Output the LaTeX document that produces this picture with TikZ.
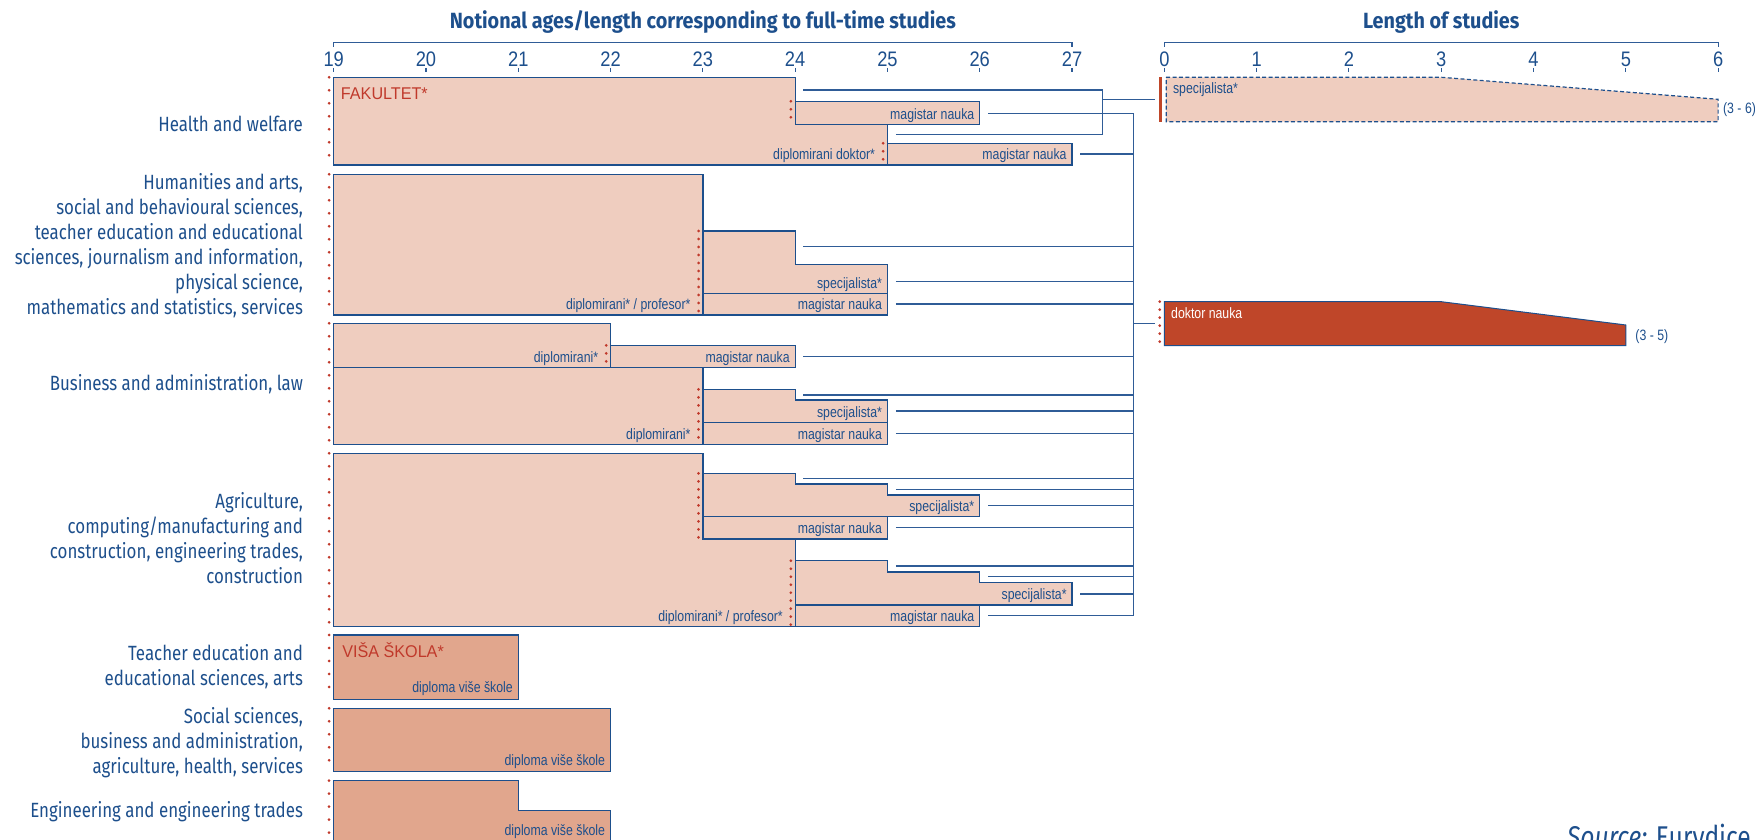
\documentclass[tikz,border=0pt]{standalone}
\usepackage{fontspec}
\newfontfamily\labfont[FakeStretch=0.82]{Fira Sans}
\newfontfamily\headfont[FakeStretch=0.9]{Fira Sans}
\newfontfamily\numfont[FakeStretch=0.87]{Liberation Sans}
\newfontfamily\boxfont[FakeStretch=0.82]{Liberation Sans}
\newfontfamily\redfont[FakeStretch=0.95]{Liberation Sans}
\definecolor{eblue}{HTML}{1D4F8C}
\definecolor{eline}{HTML}{2F5C97}
\definecolor{lightfill}{HTML}{EFCDBF}
\definecolor{darkfill}{HTML}{E1A68D}
\definecolor{edred}{HTML}{BF4629}
\definecolor{dotred}{HTML}{C0392B}
\tikzset{
  cell/.style={draw=eblue,line width=0.65pt,fill=lightfill},
  vcell/.style={draw=eblue,line width=0.65pt,fill=darkfill},
  link/.style={eline,line width=0.55pt},
  innerdots/.style={dotred,line width=1.5pt,line cap=round,dash pattern=on 0pt off 4pt},
  leftdots/.style={dotred,line width=1.5pt,line cap=round,dash pattern=on 0pt off 6.5pt},
  award/.style={font=\boxfont\fontsize{7.5}{8}\selectfont,text=eblue,anchor=base east,inner sep=0pt},
  field/.style={font=\labfont\fontsize{10.3}{12.45}\selectfont,text=eblue,anchor=east,align=right,inner sep=0pt},
  numlab/.style={font=\numfont\fontsize{10.5}{11}\selectfont,text=eblue,inner sep=0pt},
  heading/.style={font=\headfont\bfseries\fontsize{11}{12}\selectfont,text=eblue,inner sep=0pt},
  school/.style={font=\redfont\fontsize{8.5}{9}\selectfont,text=dotred,anchor=west,inner sep=0pt}
}
\begin{document}
\begin{tikzpicture}[line join=miter,x=46.15pt,y=-0.5pt]
\clip (15.385,0) rectangle (34.40,840);

\node[heading] (title1) at (23,21.7) {Notional ages/length corresponding to full-time studies};
\node[heading] (title2) at (31,21.7) {Length of studies};
\draw[link] (19,47)--(19,42.7)--(27,42.7)--(27,47);
\draw[link] (28,47)--(28,42.7)--(34,42.7)--(34,47);
\foreach \a in {19,...,27}{
  \node[numlab] (age\a) at (\a,59) {\a};
  \draw[link] (\a,68)--(\a,72);
}
\foreach \n in {0,...,6}{
  \node[numlab] (len\n) at (28+\n,59) {\n};
  \draw[link] (28+\n,68)--(28+\n,72);
}

\node[field] (fHealth) at (18.671,124) {Health and welfare};
\node[field] (fHum) at (18.671,245.7) {Humanities and arts,\\social and behavioural sciences,\\teacher education and educational\\sciences, journalism and information,\\physical science,\\mathematics and statistics, services};
\node[field] (fBus) at (18.671,384) {Business and administration, law};
\node[field] (fAgr) at (18.671,538.2) {Agriculture,\\computing/manufacturing and\\construction, engineering trades,\\construction};
\node[field] (fTeach) at (18.671,667.1) {Teacher education and\\educational sciences, arts};
\node[field] (fSoc) at (18.671,742.4) {Social sciences,\\business and administration,\\agriculture, health, services};
\node[field] (fEng) at (18.671,811.5) {Engineering and engineering trades};

\draw[cell] (19,77.3)--(24,77.3)--(24,124.3)--(25,124.3)--(25,165)--(19,165)--cycle;
\draw[cell] (24,101.3) rectangle (26,124.3);
\draw[cell] (25,143.3) rectangle (27,165);
\draw[innerdots] (23.953,101.3)--(23.953,124.3);
\draw[innerdots] (24.953,143.3)--(24.953,165);
\draw[leftdots] (18.95,77.3)--(18.95,165);
\node[school] (fak) at (19.075,93.3) {FAKULTET*};
\node[award] (hMag1) at (25.945,119.3) {magistar nauka};
\node[award] (hMag2) at (26.945,160) {magistar nauka};
\node[award] (hDip) at (24.87,160) {diplomirani doktor*};

\draw[cell] (19,174.3) rectangle (23,315);
\draw[cell] (23,231)--(24,231)--(24,264.3)--(25,264.3)--(25,293.3)--(23,293.3)--cycle;
\draw[cell] (23,293.3) rectangle (25,315);
\draw[innerdots] (22.953,231)--(22.953,315);
\draw[leftdots] (18.95,174.3)--(18.95,315);
\node[award] (uSpec) at (24.945,288.3) {specijalista*};
\node[award] (uMag) at (24.945,310) {magistar nauka};
\node[award] (uDip) at (22.87,310) {diplomirani* / profesor*};

\draw[cell] (19,323.3) rectangle (22,367.3);
\draw[cell] (22,345.3) rectangle (24,367.3);
\draw[cell] (19,367.3) rectangle (23,444.3);
\draw[cell] (23,389.3)--(24,389.3)--(24,400)--(25,400)--(25,422.7)--(23,422.7)--cycle;
\draw[cell] (23,422.7) rectangle (25,444.3);
\draw[innerdots] (21.953,345.3)--(21.953,367.3);
\draw[innerdots] (22.953,389.3)--(22.953,444.3);
\draw[leftdots] (18.95,323.3)--(18.95,444.3);
\node[award] (bDip1) at (21.87,362.3) {diplomirani*};
\node[award] (bMag1) at (23.945,362.3) {magistar nauka};
\node[award] (bSpec) at (24.945,417.7) {specijalista*};
\node[award] (bMag2) at (24.945,439.3) {magistar nauka};
\node[award] (bDip2) at (22.87,439.3) {diplomirani*};

\draw[cell] (19,453.3)--(23,453.3)--(23,539)--(24,539)--(24,626.7)--(19,626.7)--cycle;
\draw[cell] (23,473.3)--(24,473.3)--(24,484)--(25,484)--(25,495)--(26,495)--(26,516.7)--(23,516.7)--cycle;
\draw[cell] (23,516.7) rectangle (25,539);
\draw[cell] (24,560.7)--(25,560.7)--(25,572)--(26,572)--(26,582.7)--(27,582.7)--(27,605)--(24,605)--cycle;
\draw[cell] (24,605) rectangle (26,626.7);
\draw[innerdots] (22.953,473.3)--(22.953,539);
\draw[innerdots] (23.953,560.7)--(23.953,626.7);
\draw[leftdots] (18.95,453.3)--(18.95,626.7);
\node[award] (aSpec1) at (25.945,511.7) {specijalista*};
\node[award] (aMag1) at (24.945,534) {magistar nauka};
\node[award] (aSpec2) at (26.945,600) {specijalista*};
\node[award] (aMag2) at (25.945,621.7) {magistar nauka};
\node[award] (aDip) at (23.87,621.7) {diplomirani* / profesor*};

\draw[vcell] (19,635) rectangle (21,699.3);
\draw[vcell] (19,708.3) rectangle (22,771.7);
\draw[vcell] (19,780.7)--(21,780.7)--(21,810.7)--(22,810.7)--(22,860)--(19,860)--cycle;
\draw[leftdots] (18.95,635)--(18.95,699.3);
\draw[leftdots] (18.95,708.3)--(18.95,771.7);
\draw[leftdots] (18.95,780.7)--(18.95,850);
\node[school] (visa) at (19.09,650) {VIŠA ŠKOLA*};
\node[award] (vDip1) at (20.945,692.7) {diploma više škole};
\node[award] (vDip2) at (21.945,765.7) {diploma više škole};
\node[award] (vDip3) at (21.945,836) {diploma više škole};

\draw[dash pattern=on 2pt off 1.2pt,draw=eblue,line width=0.6pt,fill=lightfill]
  (28.02,77.3)--(31,77.3)--(34,99.3)--(34,121.7)--(28.02,121.7)--cycle;
\fill[edred] (27.937,77.3) rectangle (27.97,121.7);
\coordinate (specIn) at (27.90,99.3);
\node[award,anchor=west] (spec) at (28.09,90) {specijalista*};
\node[award,anchor=west] (spec36) at (34.05,110) {(3 - 6)};

\draw[draw=eblue,line width=0.5pt,fill=edred] (28,301.7)--(31,301.7)--(33,325)--(33,345.7)--(28,345.7)--cycle;
\draw[innerdots] (27.95,301.7)--(27.95,345.7);
\coordinate (doktIn) at (27.90,323.3);
\node[award,anchor=west,text=white] (dokt) at (28.07,313.3) {doktor nauka};
\node[award,anchor=west] (dokt35) at (33.1,336.7) {(3 - 5)};

\coordinate (vSmall) at (27.33,0);
\coordinate (vBig) at (27.663,0);
\foreach \x/\y in {24.09/90,25.09/134.3}
  \draw[link] (\x,\y) -- (\x,\y -| vSmall);
\draw[link] (27.33,90) -- (27.33,134.3);
\draw[link] (specIn -| vSmall) -- (specIn);
\foreach \x/\y in {26.09/113.3,27.09/154,24.09/246.7,25.09/281.7,25.09/304,24.09/356.7,24.09/395,25.09/411,25.09/433.3,24.09/478.3,25.09/489.3,26.09/505.7,25.09/527.7,25.09/566,26.09/576.7,27.09/594,26.09/615.7}
  \draw[link] (\x,\y) -- (\x,\y -| vBig);
\draw[link] (27.663,113.3) -- (27.663,615.7);
\draw[link] (doktIn -| vBig) -- (doktIn);

\node[font=\labfont\fontsize{15}{17}\selectfont,text=eblue,anchor=north west,inner sep=0pt] (src) at (32.36,824) {\itshape Source:\upshape{} Eurydice};
\end{tikzpicture}
\end{document}
